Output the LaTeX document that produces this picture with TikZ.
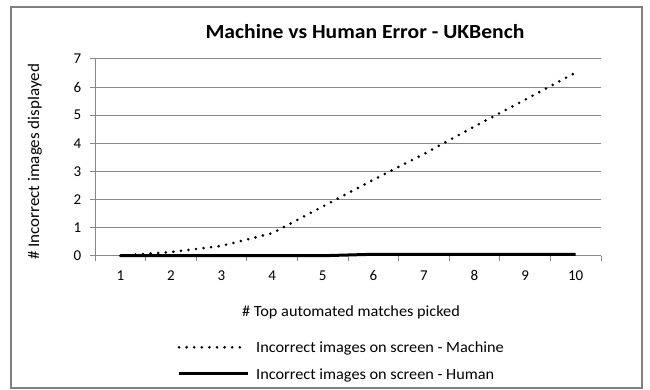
\documentclass[tikz,border=0pt]{standalone}
\usepackage{fontspec}
\setmainfont{Carlito}
\newfontfamily\wideCal[FakeStretch=1.05]{Carlito}
\newfontfamily\titleCal[FakeStretch=1.08]{Carlito}
\definecolor{gridgray}{RGB}{136,136,136}
\definecolor{framegray}{RGB}{128,128,128}
\begin{document}
\begin{tikzpicture}[x=1pt,y=-1pt,
  gridline/.style={draw=gridgray,line width=1pt},
  ticklabel/.style={font=\fontsize{15}{17}\selectfont,inner sep=0pt},
  axlabel/.style={font=\wideCal\fontsize{15.5}{18}\selectfont,inner sep=0pt},
  machine/.style={line width=2.9pt,dash pattern=on 0pt off 7.6pt,line cap=round},
  human/.style={line width=3pt},
  declare function={px(\c)=95+(\c-0.5)*50.6; py(\v)=255.7-28.1*\v;}]
\useasboundingbox (0,0) rectangle (650,390);
\fill[white] (0,0) rectangle (650,390);
% frame
\draw[framegray,line width=2.5pt] (11,7) rectangle (642,388);
% title
\node[anchor=base,font=\titleCal\fontsize{20}{24}\selectfont\bfseries,inner sep=0pt] (title) at (365,38.5) {Machine vs Human Error - UKBench};
% gridlines and y ticks
\foreach \v in {0,...,7}{
  \draw[gridline] (90,{py(\v)}) -- (601,{py(\v)});
  \node[ticklabel,anchor=east] (y\v) at (81.5,{py(\v)}) {\v};
}
% y axis
\draw[gridline] (95,{py(7)}) -- (95,{py(0)+5});
% x ticks
\foreach \k in {1,...,10}{
  \draw[gridline] ({95+\k*50.6},{py(0)}) -- ({95+\k*50.6},{py(0)+5});
  \node[ticklabel,anchor=base] (x\k) at ({px(\k)},280.7) {\k};
}
% axis titles
\node[axlabel,anchor=base] (xtitle) at (351,316.7) {\# Top automated matches picked};
\node[axlabel,rotate=90,font=\wideCal\fontsize{16.2}{18}\selectfont] (ytitle) at (35,162) {\# Incorrect images displayed};
% machine curve
\draw[machine] ({px(1)},{py(0)}) -- ({px(2)},{py(0.13)}) -- ({px(3)},{py(0.35)}) -- ({px(4)},{py(0.8)})
  -- ({px(5)},{py(1.75)}) -- ({px(6)},{py(2.7)}) -- ({px(7)},{py(3.62)}) -- ({px(8)},{py(4.6)})
  -- ({px(9)},{py(5.55)}) -- ({px(10)},{py(6.52)});
% human curve
\draw[human] ({px(1)},{py(0)}) -- ({px(5)},{py(0)}) -- ({px(6)},{py(0.05)}) -- ({px(10)},{py(0.05)});
% legend
\coordinate (lm1) at (179,347.3); \coordinate (lm2) at (244,347.3);
\coordinate (lh1) at (179,373.3); \coordinate (lh2) at (248,373.3);
\draw[machine] (lm1) -- (lm2);
\draw[human] (lh1) -- (lh2);
\node[axlabel,anchor=base west] (legm) at (256,352.7) {Incorrect images on screen - Machine};
\node[axlabel,anchor=base west] (legh) at (256,379.3) {Incorrect images on screen - Human};
\end{tikzpicture}
\end{document}
